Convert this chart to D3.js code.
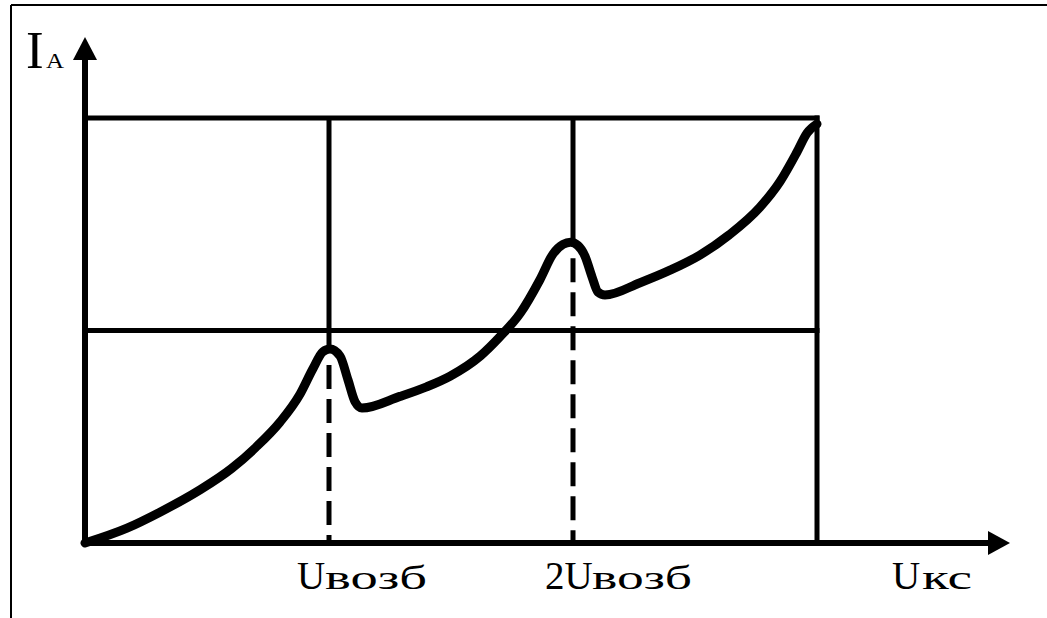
<!DOCTYPE html>
<html>
<head>
<meta charset="utf-8">
<script src="https://cdn.jsdelivr.net/npm/d3@7"></script>
<style>
    body { margin: 0; background: #fff; }
    text { font-family: "Liberation Serif", "Times New Roman", serif; fill: #000; }
</style>
</head>
<body>
<svg id="chart"></svg>
<script>
// curve points (x in units of Uвозб, y in grid units)
const curveX = [0, 0.172, 0.307, 0.471, 0.60, 0.70, 0.80, 0.881, 0.934, 0.975, 1.004, 1.045, 1.078, 1.107, 1.135,
    1.291, 1.40, 1.496, 1.62, 1.70, 1.783, 1.865, 1.918, 1.959, 1.99, 2.02, 2.049, 2.078, 2.102, 2.131,
    2.275, 2.40, 2.52, 2.64, 2.766, 2.848, 2.918, 2.959, 3.0];
const curveY = [0, 0.07, 0.145, 0.25, 0.35, 0.45, 0.57, 0.70, 0.82, 0.90, 0.913, 0.88, 0.767, 0.664, 0.635,
    0.69, 0.735, 0.785, 0.88, 0.97, 1.08, 1.24, 1.36, 1.405, 1.415, 1.40, 1.35, 1.252, 1.181, 1.167,
    1.225, 1.285, 1.355, 1.45, 1.58, 1.70, 1.84, 1.929, 1.972];

// grid
const gridY = [1, 2];          // horizontal lines
const markX = [1, 2];          // resonance marks (solid above peak, dashed below)
const markPeak = [0.913, 1.415];
const xMax = 3;

// labels
const tickMain = ["U", "2U"];
const tickSub = ["возб", "возб"];
const xLabel = ["U", "кс"];
const yLabel = ["I", "A"];

const width = 1047, height = 618;
const svg = d3.select("#chart").attr("width", width).attr("height", height);

const x = d3.scaleLinear().domain([0, 3]).range([85, 817]);
const y = d3.scaleLinear().domain([0, 2]).range([543, 118]);

// frame of the picture (top and left only)
svg.append("line").attr("x1", 11).attr("y1", 5).attr("x2", width).attr("y2", 5)
    .attr("stroke", "#000").attr("stroke-width", 2);
svg.append("line").attr("x1", 11).attr("y1", 5).attr("x2", 11).attr("y2", height)
    .attr("stroke", "#000").attr("stroke-width", 2);

// horizontal grid lines
svg.selectAll(".hgrid")
    .data(gridY)
    .enter()
    .append("line")
    .attr("x1", x(0))
    .attr("x2", x(xMax))
    .attr("y1", d => y(d))
    .attr("y2", d => y(d))
    .attr("stroke", "#000")
    .attr("stroke-width", 5)
    .attr("stroke-linecap", "square");

// right border line
svg.append("line")
    .attr("x1", x(xMax)).attr("x2", x(xMax))
    .attr("y1", y(0)).attr("y2", y(2))
    .attr("stroke", "#000").attr("stroke-width", 5).attr("stroke-linecap", "square");

// solid part of the marks
svg.selectAll(".msolid")
    .data(markX)
    .enter()
    .append("line")
    .attr("x1", d => x(d)).attr("x2", d => x(d))
    .attr("y1", y(2))
    .attr("y2", (d, i) => y(markPeak[i]))
    .attr("stroke", "#000").attr("stroke-width", 5);

// dashed part of the marks
svg.selectAll(".mdash")
    .data(markX)
    .enter()
    .append("line")
    .attr("x1", d => x(d)).attr("x2", d => x(d))
    .attr("y1", (d, i) => y(markPeak[i]) + 16)
    .attr("y2", y(0))
    .attr("stroke", "#000").attr("stroke-width", 5)
    .attr("stroke-dasharray", "24,10");

// axes with arrows
svg.append("line")
    .attr("x1", x(0)).attr("y1", y(0)).attr("x2", 995).attr("y2", y(0))
    .attr("stroke", "#000").attr("stroke-width", 6);
svg.append("line")
    .attr("x1", x(0)).attr("y1", y(0) + 3).attr("x2", x(0)).attr("y2", 55)
    .attr("stroke", "#000").attr("stroke-width", 6);
svg.append("path")
    .attr("d", `M1010,${y(0)} L988,${y(0) - 12} L988,${y(0) + 12} Z`)
    .attr("fill", "#000");
svg.append("path")
    .attr("d", `M${x(0)},37 L${x(0) - 12},60 L${x(0) + 12},60 Z`)
    .attr("fill", "#000");

// the characteristic curve
const line = d3.line()
    .x(d => x(d[0]))
    .y(d => y(d[1]))
    .curve(d3.curveMonotoneX);

svg.append("path")
    .datum(curveX.map((v, i) => [v, curveY[i]]))
    .attr("d", line)
    .attr("fill", "none")
    .attr("stroke", "#000")
    .attr("stroke-width", 9)
    .attr("stroke-linecap", "round")
    .attr("stroke-linejoin", "round");

// tick labels under the marks
const mainX = [297, 545];
const subX = [325, 592];
const subLen = [102, 100];
tickMain.forEach(function (t, i) {
    svg.append("text").attr("x", mainX[i]).attr("y", 589)
        .attr("font-size", 39).text(t);
    svg.append("text").attr("x", subX[i]).attr("y", 589)
        .attr("font-size", 34)
        .attr("textLength", subLen[i]).attr("lengthAdjust", "spacingAndGlyphs")
        .text(tickSub[i]);
});

// axis names
svg.append("text").attr("x", 892).attr("y", 589).attr("font-size", 39).text(xLabel[0]);
svg.append("text").attr("x", 922).attr("y", 589).attr("font-size", 34)
    .attr("textLength", 50).attr("lengthAdjust", "spacingAndGlyphs").text(xLabel[1]);

svg.append("text").attr("x", 26).attr("y", 68).attr("font-size", 53).text(yLabel[0]);
svg.append("text").attr("x", 46).attr("y", 68).attr("font-size", 21)
    .attr("textLength", 18).attr("lengthAdjust", "spacingAndGlyphs").text(yLabel[1]);
</script>
</body>
</html>
